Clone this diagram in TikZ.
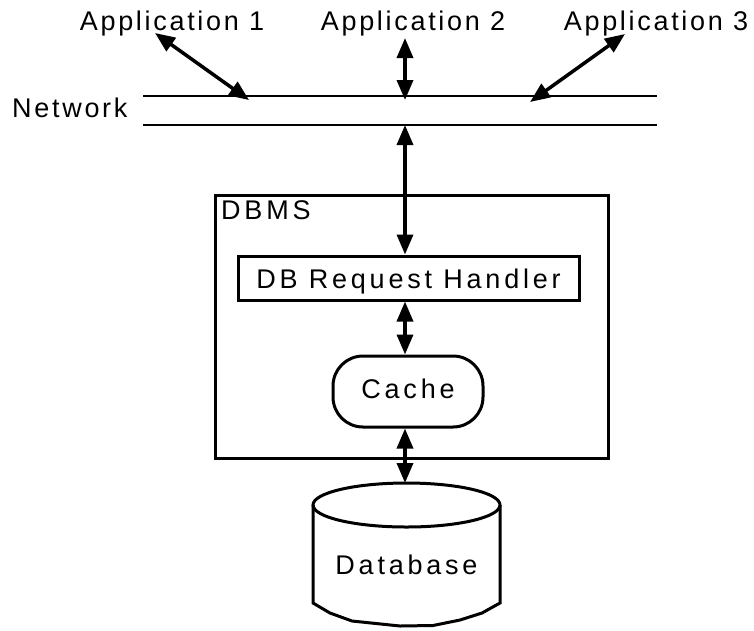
\documentclass[tikz,border=0pt]{standalone}
\usepackage{fontspec}
\setmainfont{Liberation Sans}
\newfontfamily\lblfont[LetterSpace=10]{Liberation Sans}
\newfontfamily\boxfont[LetterSpace=14]{Liberation Sans}
\usetikzlibrary{arrows.meta,calc}
\begin{document}
\begin{tikzpicture}[x=1pt,y=-1pt,
  lbl/.style={font=\lblfont\fontsize{27}{32}\selectfont, inner sep=0pt},
  boxlbl/.style={font=\boxfont\fontsize{27}{32}\selectfont, inner sep=0pt},
  arr/.style={line width=3.5pt,{Triangle[length=20pt,width=16pt]}-{Triangle[length=20pt,width=16pt]}},
  netline/.style={line width=2pt},
  boxline/.style={draw, line width=3pt},
]
\useasboundingbox (0,0) rectangle (754,630);
% application labels
\node[lbl, anchor=base] (app1) at (172,30) {Application 1};
\node[lbl, anchor=base] (app2) at (413,30) {Application 2};
\node[lbl, anchor=base] (app3) at (656,30) {Application 3};
\node[lbl, anchor=base west] (net) at (12,117) {Network};
% network lines
\coordinate (nt1) at (143,96);
\coordinate (nt2) at (657,96);
\coordinate (nb1) at (143,125);
\coordinate (nb2) at (657,125);
\draw[netline] (nt1) -- (nt2);
\draw[netline] (nb1) -- (nb2);
% arrow end coordinates
\coordinate (a1top) at (155,33);
\coordinate (a1bot) at (249,100);
\coordinate (a2top) at (405,38);
\coordinate (a2bot) at (405,100);
\coordinate (a3top) at (625,34);
\coordinate (a3bot) at (530,102);
\coordinate (nbc) at (405,125);
\draw[arr] (a1top) -- (a1bot);
\draw[arr] (a2top) -- (a2bot);
\draw[arr] (a3top) -- (a3bot);
% DBMS box
\node[boxline, minimum width=393pt, minimum height=263pt, inner sep=0pt] (dbms) at (411.5,326.5) {};
\node[boxlbl, anchor=base west] (dbmslbl) at (221,219) {DBMS};
% handler
\node[boxline, boxlbl, minimum width=341pt, minimum height=44pt, text height=20pt, text depth=0pt] (handler) at (408.5,278) {DB Request Handler};
% cache
\node[boxline, boxlbl, rounded corners=30pt, minimum width=150pt, minimum height=71pt, text height=13pt, text depth=0pt] (cache) at (408,391.5) {Cache};
% database
\draw[line width=3pt, fill=white] (313,505) -- (313,603) -- (330,613) -- (352,621) -- (400,626) -- (433,625.5) -- (460,620) -- (482,613) -- (500,603) -- (500,505);
\draw[line width=3pt] (406.5,505) ellipse [x radius=93.5pt, y radius=22pt];
\node[boxlbl, anchor=base] (db) at (406.5,574) {Database};
% vertical arrows
\draw[arr] (nbc) -- (nbc |- handler.north);
\draw[arr] (nbc |- handler.south) -- (nbc |- cache.north);
\draw[arr] (nbc |- cache.south) -- (nbc |- 0,483);
\end{tikzpicture}
\end{document}
